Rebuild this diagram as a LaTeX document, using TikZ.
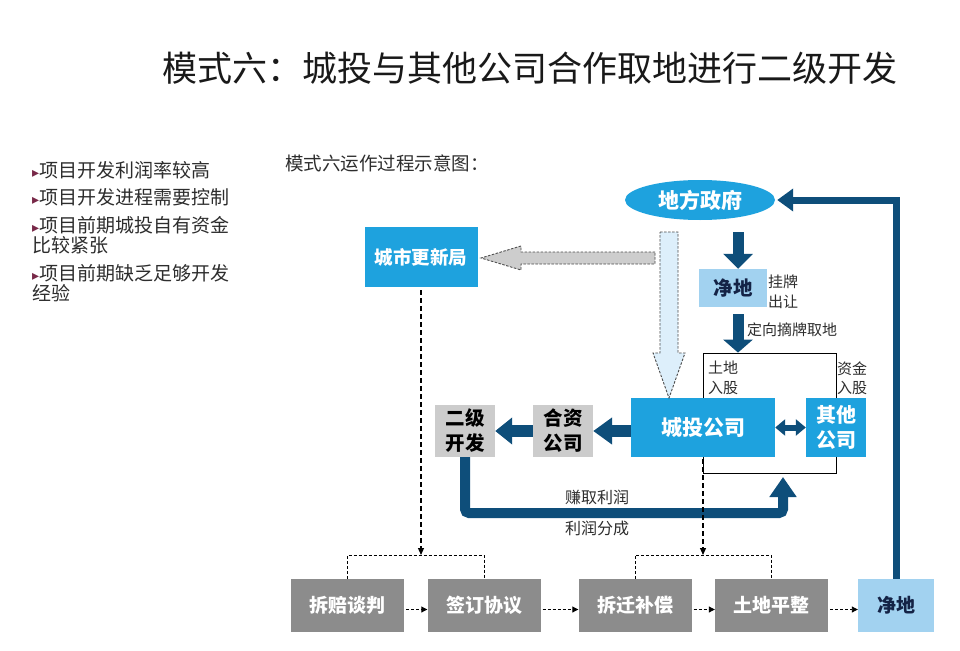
\documentclass[tikz,border=0pt]{standalone}
\usepackage{fontspec}
\setmainfont{Noto Sans CJK SC}
\newfontfamily\symfont{DejaVu Sans}
\usetikzlibrary{arrows.meta,shapes.geometric}
\definecolor{cblue}{RGB}{30,162,222}
\definecolor{cdark}{RGB}{14,78,122}
\definecolor{clight}{RGB}{162,210,240}
\definecolor{cgrayd}{RGB}{140,140,140}
\definecolor{cgrayl}{RGB}{204,204,204}
\definecolor{cgarrow}{RGB}{205,205,205}
\definecolor{cbarrow}{RGB}{221,239,251}
\definecolor{cbullet}{RGB}{120,40,72}
\definecolor{ctext}{RGB}{45,45,45}
\definecolor{cnavy}{RGB}{20,35,70}
\newcommand{\bulmark}{{\symfont\fontsize{14}{14}\selectfont\color{cbullet}▸}}
\begin{document}
\begin{tikzpicture}[x=1pt,y=-1pt,
  bluebox/.style={rectangle, fill=cblue, text=white, font=\bfseries\fontsize{20}{25}\selectfont, inner sep=0pt, align=center},
  graybox/.style={rectangle, fill=cgrayl, text=black, font=\bfseries\fontsize{19.5}{25}\selectfont, inner sep=0pt, align=center, minimum width=60pt, minimum height=52pt},
  darkbox/.style={rectangle, fill=cgrayd, text=white, font=\bfseries\fontsize{19}{23}\selectfont, inner sep=0pt, minimum width=113pt, minimum height=53pt},
  lightbox/.style={rectangle, fill=clight, text=cnavy, font=\bfseries\fontsize{19.5}{23}\selectfont, inner sep=0pt},
  fatarrow/.style={draw=cdark, line width=10pt, -{Triangle[width=28pt,length=16pt]}},
  lbl/.style={font=\fontsize{15}{19.5}\selectfont, text=ctext, inner sep=0pt, align=left},
  bul/.style={font=\fontsize{19}{20.5}\selectfont, text=ctext, inner sep=0pt, align=left, anchor=west},
  vdash/.style={draw=black, line width=1.2pt, dash pattern=on 5pt off 3pt, -{Triangle[width=6pt,length=7pt]}},
  hdash/.style={draw=black, line width=0.9pt, dash pattern=on 3pt off 2pt, -{Triangle[width=6pt,length=6pt]}},
  brk/.style={draw=black, line width=0.8pt, dash pattern=on 3pt off 2pt},
  hollow/.style={draw=black!70, line width=0.9pt, dash pattern=on 2.5pt off 1.5pt}
]
\useasboundingbox (0,0) rectangle (960,650);
\fill[white] (0,0) rectangle (960,650);

% title
\node[font=\fontsize{35}{40}\selectfont, text=black!90, inner sep=0pt] (title) at (530,68) {模式六：城投与其他公司合作取地进行二级开发};

% bullets
\node[bul] (t1) at (32,170) {\bulmark 项目开发利润率较高};
\node[bul] (t2) at (32,197) {\bulmark 项目开发进程需要控制};
\node[bul] (t3) at (32,235) {\bulmark 项目前期城投自有资金\\比较紧张};
\node[bul] (t4) at (32,283) {\bulmark 项目前期缺乏足够开发\\经验};

% caption
\node[font=\fontsize{18.5}{22}\selectfont, text=ctext, inner sep=0pt, anchor=west] (cap) at (285,163) {模式六运作过程示意图：};

% main nodes
\node[ellipse, fill=cblue, text=white, font=\bfseries\fontsize{21}{25}\selectfont, minimum width=150pt, minimum height=40pt, inner sep=0pt] (gov) at (700,200) {地方政府};
\node[bluebox, font=\bfseries\fontsize{18.5}{23}\selectfont, minimum width=113pt, minimum height=60pt] (urb) at (421,257) {城市更新局};
\node[lightbox, minimum width=68pt, minimum height=38pt] (jd1) at (733,288) {净地};
\node[lbl, anchor=west] (gp) at (768,292) {挂牌\\出让};
\node[draw=black, line width=0.8pt, minimum width=133pt, minimum height=120pt, inner sep=0pt] (frame) at (769.5,413) {};
\node[lbl, anchor=west] (dx) at (747,330) {定向摘牌取地};
\node[lbl, anchor=west] (td) at (708,378) {土地\\入股};
\node[lbl, anchor=west] (zj) at (837,378) {资金\\入股};
\node[bluebox, font=\bfseries\fontsize{21}{25}\selectfont, minimum width=144pt, minimum height=59pt] (ct) at (703,427.5) {城投公司};
\node[bluebox, minimum width=60pt, minimum height=59pt] (qt) at (836,427.5) {其他\\公司};
\node[graybox] (hz) at (563,431) {合资\\公司};
\node[graybox] (ej) at (465,431) {二级\\开发};
\node[font=\fontsize{16}{20}\selectfont, text=ctext, inner sep=0pt] (zq) at (597,497) {赚取利润};
\node[font=\fontsize{16}{20}\selectfont, text=ctext, inner sep=0pt] (fc) at (597,528) {利润分成};

% bottom row
\node[darkbox] (b1) at (347.5,605.5) {拆赔谈判};
\node[darkbox] (b2) at (484,605.5) {签订协议};
\node[darkbox] (b3) at (635,605.5) {拆迁补偿};
\node[darkbox] (b4) at (771.5,605.5) {土地平整};
\node[lightbox, font=\bfseries\fontsize{19}{23}\selectfont, minimum width=76pt, minimum height=53pt] (jd2) at (896,605.5) {净地};

% hollow arrows
\filldraw[hollow, fill=cgarrow] (655,252) -- (521,252) -- (521,246) -- (481,258) -- (521,270) -- (521,264) -- (655,264) -- cycle;
\filldraw[hollow, fill=cbarrow] (660,232) -- (678,232) -- (678,353) -- (685,353) -- (669,398) -- (653,353) -- (660,353) -- cycle;

% thick arrows
\coordinate (g1) at (738,232);
\draw[fatarrow, line width=11pt, -{Triangle[width=29pt,length=15pt]}] (g1) -- (g1 |- jd1.north);
\coordinate (j1) at (738,314);
\draw[fatarrow, line width=11pt, -{Triangle[width=29pt,length=13pt]}] (j1) -- (j1 |- frame.north);
\draw[fatarrow, line width=12pt, -{Triangle[width=26pt,length=19pt]}] (ct.west |- hz.east) -- (hz.east);
\draw[fatarrow, line width=12pt, -{Triangle[width=26pt,length=17pt]}] (hz.west) -- (ej.east);
\draw[draw=cdark, line width=6pt, {Triangle[width=16pt,length=10pt]}-{Triangle[width=16pt,length=10pt]}] (ct.east) -- (qt.west);
\coordinate (u1) at (783,473);
\draw[fatarrow, line width=10pt, rounded corners=4pt, -{Triangle[width=26pt,length=20pt]}, shorten >=4pt] (ej.south) -- (465,513) -| (u1);
\draw[fatarrow, line width=7pt, -{Triangle[width=22pt,length=16pt]}, shorten >=2pt] (jd2.north) -- (jd2.north |- gov.east) -- (gov.east);

% dashed connectors
\coordinate (k1) at (0,555);
\draw[vdash, shorten <=3pt] (urb.south) -- (urb.south |- k1);
\draw[vdash, shorten <=2pt] (ct.south) -- (ct.south |- k1);
\draw[brk] (b1.north) -- (b1.north |- k1) -- (b2.north |- k1) -- (b2.north);
\draw[brk] (b3.north) -- (b3.north |- k1) -- (b4.north |- k1) -- (b4.north);
\draw[hdash, shorten <=2pt] ([yshift=-4pt]b1.east) -- ([yshift=-4pt]b2.west);
\draw[hdash, shorten <=2pt] ([yshift=-4pt]b2.east) -- ([yshift=-4pt]b3.west);
\draw[hdash, shorten <=2pt] ([yshift=-4pt]b3.east) -- ([yshift=-4pt]b4.west);
\draw[hdash, shorten <=2pt] ([yshift=-4pt]b4.east) -- ([yshift=-4pt]jd2.west);
\end{tikzpicture}
\end{document}
